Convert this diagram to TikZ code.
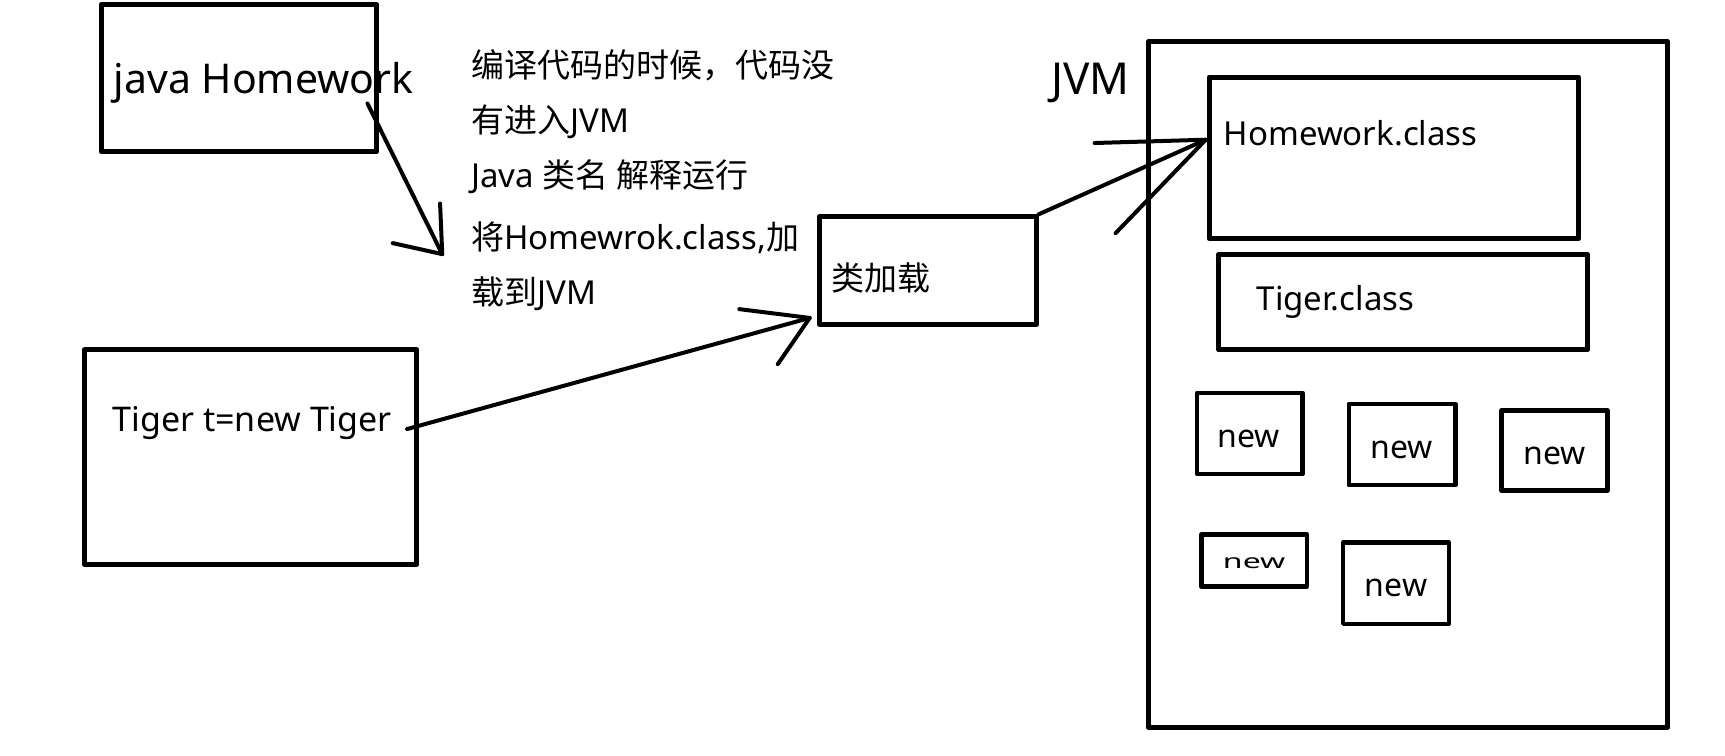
\documentclass[tikz,border=0pt]{standalone}
\usepackage{fontspec}
\setmainfont{Noto Sans}
\newfontfamily\cjk{Noto Sans CJK SC}
\usepackage{graphicx}
\usepackage{tikz}
\usetikzlibrary{fit}

\begin{document}
\begin{tikzpicture}[x=0.55pt,y=-0.55pt,line cap=round,line join=round]
  \tikzstyle{box}=[draw,line width=2.5pt,inner sep=0pt]
  \tikzstyle{newbox}=[box,line width=2.2pt]
  \tikzstyle{txt}=[inner sep=0pt,anchor=base west,font=\fontsize{16.5}{20}\selectfont]
  \tikzstyle{big}=[txt,font=\fontsize{20.5}{24}\selectfont]
  \tikzstyle{newtxt}=[inner sep=0pt,anchor=base,font=\fontsize{16}{19}\selectfont]
  \tikzstyle{pen}=[line width=2pt]
\useasboundingbox (0,0) rectangle (1568,687);
% boxes
\node[box,fit={(92,4) (342,138)}] (jh) {};
\node[box,fit={(77,318) (379,513)}] (tn) {};
\node[box,fit={(745,197) (942,295)}] (cl) {};
\node[box,fit={(1044,38) (1516,661)}] (jvm) {};
\node[box,fit={(1099,70) (1435,217)}] (hwc) {};
\node[box,fit={(1108,231) (1443,318)}] (tgc) {};
\node[newbox,fit={(1088,357) (1184,431)}] (new1) {};
\node[newbox,fit={(1226,367) (1323,441)}] (new2) {};
\node[newbox,fit={(1365,373) (1461,446)}] (new3) {};
\node[newbox,fit={(1092,486) (1188,533)}] (new4) {};
\node[newbox,fit={(1221,493) (1317,567)}] (new5) {};
% labels
\node[big] (jht) at (103,85) {java Homework};
\node[txt,font=\fontsize{17}{20}\selectfont] (tnt) at (102,392) {Tiger t=new Tiger};
\node[txt] (clt) at (755,264) {\cjk 类加载};
\node[big,font=\fontsize{22}{26}\selectfont] (jvmt) at (955,86) {JVM};
\node[txt] (hwct) at (1112,132) {Homework.class};
\node[txt] (tgct) at (1142,282) {Tiger.class};
\node[newtxt] (new1t) at (1135,407) {new};
\node[newtxt] (new2t) at (1274,417) {new};
\node[newtxt] (new3t) at (1413,422) {new};
\node[newtxt] (new4t) at (1140,517) {\scalebox{1}[0.62]{new}};
\node[newtxt] (new5t) at (1269,542) {new};
% note
\node[txt] (note1) at (428,70) {\cjk 编译代码的时候，代码没};
\node[txt] (note2) at (428,120) {{\cjk 有进入}JVM};
\node[txt] (note3) at (428,170) {Java {\cjk 类名 解释运行}};
\node[txt] (note4) at (428,227) {{\cjk 将}Homewrok.class,{\cjk 加}};
\node[txt] (note5) at (428,277) {{\cjk 载到}JVM};
% arrows
\coordinate (a1s) at (334,94);
\coordinate (a1t) at (402,231);
\coordinate (a1l) at (400,185);
\coordinate (a1r) at (357,221);
\coordinate (a2s) at (370,390);
\coordinate (a2t) at (736,289);
\coordinate (a2l) at (672,281);
\coordinate (a2r) at (707,331);
\coordinate (a3t) at (1096,127);
\coordinate (a3l) at (995,130);
\coordinate (a3r) at (1014,212);
\draw[pen] (a1s) -- (a1t);
\draw[pen] (a1l) -- (a1t) -- (a1r);
\draw[pen] (a2s) -- (a2t);
\draw[pen] (a2l) -- (a2t) -- (a2r);
\draw[pen] (cl.north east) -- (a3t);
\draw[pen] (a3l) -- (a3t) -- (a3r);
\end{tikzpicture}
\end{document}
